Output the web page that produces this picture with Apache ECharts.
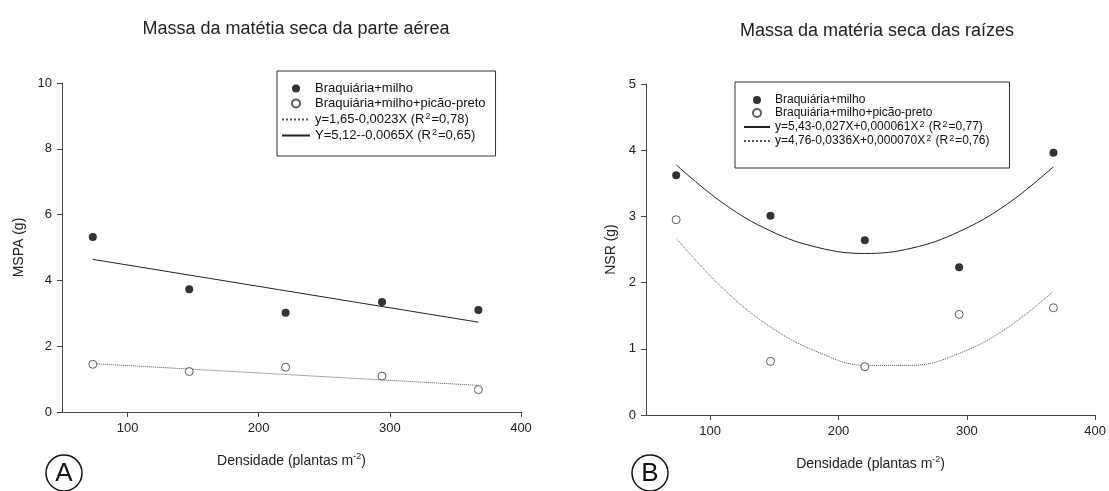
<!DOCTYPE html>
<html>
<head>
<meta charset="utf-8">
<title>Massa da matéria seca</title>
<script src="https://cdn.jsdelivr.net/npm/echarts@6/dist/echarts.min.js"></script>
<style>
  html, body { margin: 0; padding: 0; background: #fff; }
  #chart { width: 1109px; height: 491px; }
</style>
</head>
<body>
<div id="chart"></div>
<script>
// densidades (plantas m-2)
const densidade = [73.5, 147, 220.5, 294, 367.5];
const xTicks = [100, 200, 300, 400];

// A - massa seca da parte aerea (g)
const mspaMilho = [5.32, 3.73, 3.02, 3.34, 3.10];
const mspaPicao = [1.45, 1.23, 1.36, 1.09, 0.68];
const fitAx = [73.5, 367.5];
const fitAMilho = [4.64, 2.73];
const fitAPicao = [1.47, 0.81];

// B - massa seca das raizes (g)
const nsrMilho = [3.62, 3.01, 2.64, 2.23, 3.96];
const nsrPicao = [2.95, 0.81, 0.73, 1.52, 1.62];
// curvas ajustadas
const fitBx = [73.5, 110, 147, 184, 220.5, 257, 294, 331, 367.5];
const fitBMilho = [3.78, 3.20, 2.78, 2.53, 2.44, 2.52, 2.77, 3.18, 3.75];
const fitBPicao = [2.67, 1.91, 1.33, 0.95, 0.75, 0.75, 0.93, 1.31, 1.87];

const nomeMilho = 'Braquiária+milho';
const nomePicao = 'Braquiária+milho+picão-preto';
const eqA1 = 'y=1,65-0,0023X (R2=0,78)';
const eqA2 = 'Y=5,12--0,0065X (R2=0,65)';
const eqB1 = 'y=5,43-0,027X+0,000061X2 (R2=0,77)';
const eqB2 = 'y=4,76-0,0336X+0,000070X2 (R2=0,76)';

// nomes com expoentes em rich text
const richName = {};
richName[nomeMilho] = '{t|' + nomeMilho + '}';
richName[nomePicao] = '{t|' + nomePicao + '}';
richName[eqA1] = '{t|y=1,65-0,0023X (R}{s|2}{t|=0,78)}';
richName[eqA2] = '{t|Y=5,12--0,0065X (R}{s|2}{t|=0,65)}';
richName[eqB1] = '{t|y=5,43-0,027X+0,000061X}{s|2}{t| (R}{s|2}{t|=0,77)}';
richName[eqB2] = '{t|y=4,76-0,0336X+0,000070X}{s|2}{t| (R}{s|2}{t|=0,76)}';

const font = 'Liberation Sans, Arial, sans-serif';
const axisColor = '#444';

function pairs(xs, ys) {
    return xs.map(function (x, i) { return [x, ys[i]]; });
}

function xAxisCfg(idx) {
    return {
        gridIndex: idx,
        type: 'value',
        min: 50,
        max: 400,
        name: '{t|Densidade (plantas m}{s|-2}{t|)}',
        nameLocation: 'middle',
        nameGap: 40,
        nameTextStyle: {
            rich: {
                t: { fontSize: 14, color: '#222', fontFamily: font, lineHeight: 18 },
                s: { fontSize: 9, color: '#222', fontFamily: font, verticalAlign: 'top', lineHeight: 10 }
            }
        },
        axisLine: { show: true, onZero: false, lineStyle: { color: axisColor, width: 1 } },
        axisTick: { show: true, inside: false, length: 5, customValues: xTicks, lineStyle: { color: axisColor } },
        axisLabel: { customValues: xTicks, margin: 10, fontSize: 13, color: '#222', fontFamily: font },
        splitLine: { show: false }
    };
}

function yAxisCfg(idx, max, interval, name, gap) {
    return {
        gridIndex: idx,
        type: 'value',
        min: 0,
        max: max,
        interval: interval,
        name: name,
        nameLocation: 'middle',
        nameRotate: 90,
        nameGap: gap,
        nameTextStyle: { fontSize: 14, color: '#222', fontFamily: font },
        axisLine: { show: true, onZero: false, lineStyle: { color: axisColor, width: 1 } },
        axisTick: { show: true, inside: false, length: 5, lineStyle: { color: axisColor } },
        axisLabel: { margin: 10, fontSize: 13, color: '#222', fontFamily: font },
        splitLine: { show: false }
    };
}

function pontos(name, idx, data, cheio) {
    return {
        name: name,
        type: 'scatter',
        xAxisIndex: idx,
        yAxisIndex: idx,
        data: data,
        symbol: 'circle',
        symbolSize: 8,
        z: 5,
        itemStyle: cheio
            ? { color: '#000', borderColor: '#000', borderWidth: 0 }
            : { color: '#fff', borderColor: '#333', borderWidth: 1 }
    };
}

function ajuste(name, idx, data, tipo) {
    return {
        name: name,
        type: 'line',
        xAxisIndex: idx,
        yAxisIndex: idx,
        data: data,
        symbol: 'none',
        smooth: data.length > 2 ? 0.4 : false,
        z: 3,
        itemStyle: { color: tipo === 'solid' ? '#222' : '#555' },
        lineStyle: { color: tipo === 'solid' ? '#222' : '#555', width: 1, type: tipo }
    };
}

function legenda(names, left, top, size, itemWidth, gap, padding) {
    return {
        orient: 'vertical',
        left: left,
        top: top,
        // as linhas de ajuste aparecem so como traco, sem simbolo
        data: names.map(function (n, i) {
            return i < 2 ? n : { name: n, itemStyle: { opacity: 0 } };
        }),
        selectedMode: false,
        borderColor: '#333',
        borderWidth: 1,
        borderRadius: 0,
        padding: padding,
        itemGap: gap,
        itemWidth: itemWidth,
        itemHeight: 8,
        formatter: function (n) { return richName[n]; },
        textStyle: {
            rich: {
                t: { fontSize: size, color: '#111', fontFamily: font, lineHeight: size + 2 },
                s: { fontSize: 9, color: '#111', fontFamily: font, verticalAlign: 'top', lineHeight: 10, padding: [0, 1, 0, 1] }
            }
        }
    };
}

const chart = echarts.init(document.getElementById('chart'), null, { renderer: 'canvas' });

const option = {
    backgroundColor: '#fff',
    animation: false,
    title: [
        {
            text: 'Massa da matétia seca da parte aérea',
            left: 291, top: 15, textAlign: 'center',
            textStyle: { fontSize: 18, fontWeight: 'normal', color: '#222', fontFamily: font }
        },
        {
            text: 'Massa da matéria seca das raízes',
            left: 872, top: 17, textAlign: 'center',
            textStyle: { fontSize: 18, fontWeight: 'normal', color: '#222', fontFamily: font }
        }
    ],
    grid: [
        { left: 62, right: 588, top: 83, bottom: 79 },
        { left: 646, right: 11, top: 84, bottom: 76 }
    ],
    xAxis: [xAxisCfg(0), xAxisCfg(1)],
    yAxis: [
        yAxisCfg(0, 10, 2, 'MSPA (g)', 36),
        yAxisCfg(1, 5, 1, 'NSR (g)', 28)
    ],
    legend: [
        legenda([nomeMilho, nomePicao, eqA1, eqA2], 277, 71, 13, 28, 2, [11, 10, 14, 4]),
        legenda([nomeMilho, nomePicao, eqB1, eqB2], 735, 82, 12, 26, 1, [12, 20, 21, 8])
    ],
    graphic: [
        { type: 'circle', shape: { cx: 64, cy: 473, r: 18 }, style: { fill: 'none', stroke: '#111', lineWidth: 1.5 } },
        { type: 'text', x: 64, y: 474, style: { text: 'A', fontSize: 26, fontFamily: font, fill: '#111', align: 'center', verticalAlign: 'middle' } },
        { type: 'circle', shape: { cx: 650, cy: 473, r: 18 }, style: { fill: 'none', stroke: '#111', lineWidth: 1.5 } },
        { type: 'text', x: 650, y: 474, style: { text: 'B', fontSize: 26, fontFamily: font, fill: '#111', align: 'center', verticalAlign: 'middle' } }
    ],
    series: [
        ajuste(eqA1, 0, pairs(fitAx, fitAPicao), 'dotted'),
        ajuste(eqA2, 0, pairs(fitAx, fitAMilho), 'solid'),
        pontos(nomeMilho, 0, pairs(densidade, mspaMilho), true),
        pontos(nomePicao, 0, pairs(densidade, mspaPicao), false),
        ajuste(eqB1, 1, pairs(fitBx, fitBMilho), 'solid'),
        ajuste(eqB2, 1, pairs(fitBx, fitBPicao), 'dotted'),
        pontos(nomeMilho, 1, pairs(densidade, nsrMilho), true),
        pontos(nomePicao, 1, pairs(densidade, nsrPicao), false)
    ]
};

chart.setOption(option);
</script>
</body>
</html>
